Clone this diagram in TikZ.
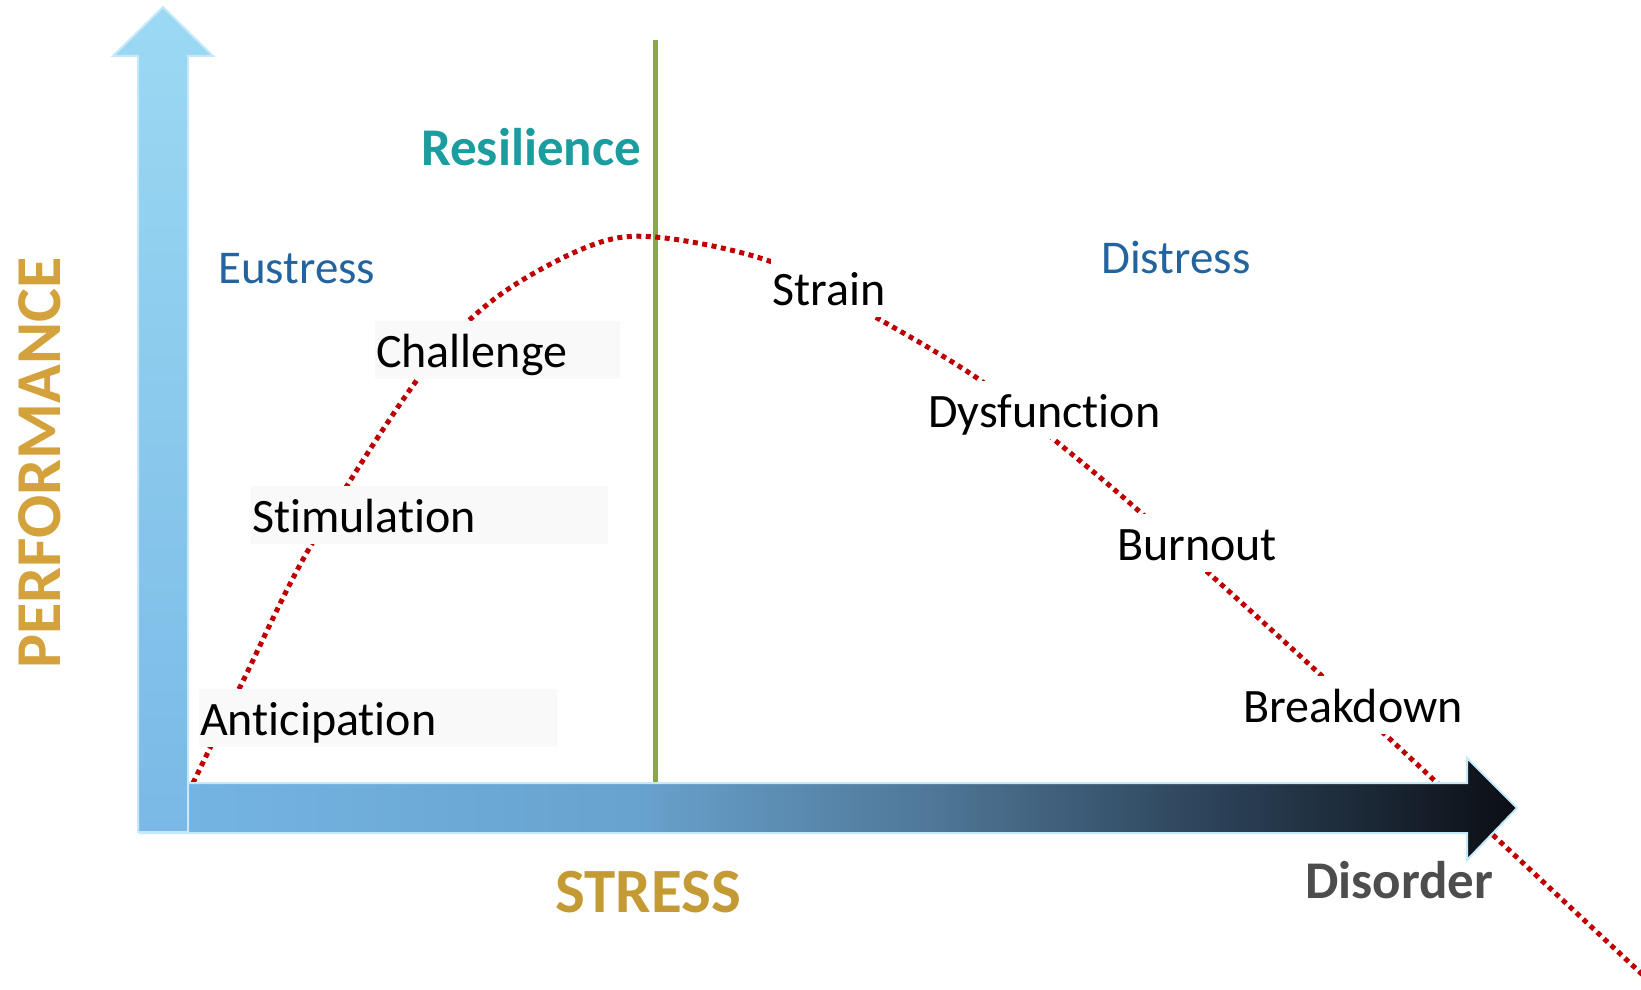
\documentclass[tikz,border=0pt]{standalone}
\usepackage{fontspec}
\setmainfont{Carlito}[Ligatures={NoCommon,NoRequired,NoContextual}]
\usepackage{xcolor}
\definecolor{curvered}{RGB}{192,0,0}
\definecolor{phaseblue}{RGB}{36,100,158}
\definecolor{resteal}{RGB}{27,156,159}
\definecolor{axisgold}{RGB}{212,162,61}
\definecolor{stressgold}{RGB}{196,154,53}
\definecolor{disordergray}{RGB}{77,77,77}
\definecolor{peakgreen}{RGB}{137,165,78}
\definecolor{arrowedge}{RGB}{197,233,250}
\definecolor{labelfill}{RGB}{249,249,249}
\definecolor{barA}{RGB}{117,182,230}
\definecolor{barB}{RGB}{104,162,206}
\definecolor{barC}{RGB}{78,118,150}
\definecolor{barD}{RGB}{44,66,88}
\definecolor{barE}{RGB}{11,14,20}
\pgfdeclarehorizontalshading{stressbar}{100bp}{color(0bp)=(barA); color(25bp)=(barA);
  color(43bp)=(barB); color(54bp)=(barC); color(64bp)=(barD); color(75bp)=(barE); color(100bp)=(barE)}

\begin{document}
\begin{tikzpicture}[x=1pt,y=-1pt,
  stage/.style={anchor=base west,fill=white,inner xsep=1pt,inner ysep=0pt,
    text height=46pt,text depth=12pt,align=left,font=\fontsize{48}{56}\selectfont},
  phase/.style={anchor=base west,inner sep=0pt,text=phaseblue,font=\fontsize{47}{55}\selectfont}]
  \useasboundingbox (0,0) rectangle (1641,990);
  % peak line and curve
  \draw[peakgreen,line width=5pt] (655,40) -- (655,783);
  \draw[curvered,line width=5pt,dash pattern=on 5pt off 4.5pt]
    plot[smooth,tension=0.55] coordinates {(193,783) (242,683) (310,547) (417,380) (493,300)
      (587,247) (655,237) (772,262) (877,318) (977,378) (1057,442) (1140,512) (1323,677) (1645,977)};
  % axes
  \draw[arrowedge,line width=2pt,shading=stressbar]
    (140,783) -- (1467,783) -- (1467,758) -- (1517,808) -- (1467,860) -- (1467,833) -- (140,833) -- cycle;
  \draw[arrowedge,line width=2pt,top color={rgb,255:red,155;green,217;blue,243},
    bottom color={rgb,255:red,122;green,185;blue,230}]
    (138,832) -- (138,56) -- (113,56) -- (163,7) -- (213,56) -- (188,56) -- (188,832) -- cycle;
  % stages along the curve
  \node[stage,fill=labelfill,text width=243pt] (challenge) at (375,367) {Challenge};
  \node[stage,fill=labelfill,text width=355pt] (stimulation) at (251,532) {Stimulation};
  \node[stage,fill=labelfill,text width=356pt] (anticipation) at (199,735) {Anticipation};
  \node[stage] (strain) at (771,305) {Strain};
  \node[stage] (dysfunction) at (927,427) {Dysfunction};
  \node[stage] (burnout) at (1116,560) {Burnout};
  \node[stage] (breakdown) at (1242,722) {Breakdown};
  % phases
  \node[phase] (eustress) at (218,283) {Eustress};
  \node[phase] (distress) at (1101,273) {Distress};
  \node[anchor=base west,inner sep=0pt,text=resteal,font=\fontsize{53}{60}\selectfont\bfseries] (resilience) at (421,165) {Resilience};
  % axis titles
  \node[anchor=base west,inner sep=0pt,rotate=90,text=axisgold,font=\fontsize{64}{70}\selectfont\bfseries] (performance) at (60,669) {PERFORMANCE};
  \node[anchor=base west,inner sep=0pt,text=stressgold,font=\fontsize{63}{70}\selectfont\bfseries] (stress) at (555,912) {STRESS};
  \node[anchor=base west,inner sep=0pt,text=disordergray,font=\fontsize{53}{60}\selectfont\bfseries] (disorder) at (1305,898) {Disorder};
\end{tikzpicture}
\end{document}
